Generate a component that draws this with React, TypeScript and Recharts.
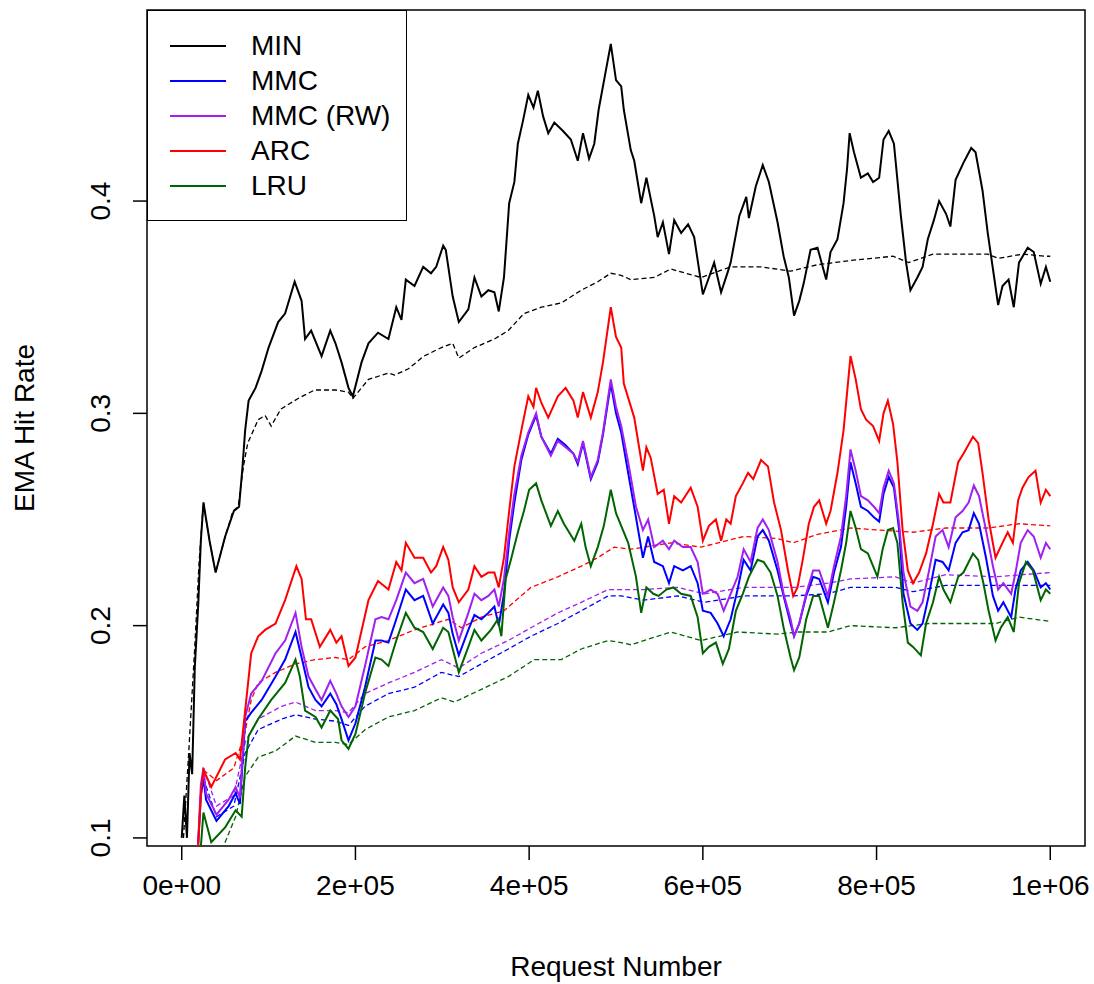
import { LineChart, Line, XAxis, YAxis, ReferenceArea } from "recharts";

// request number in thousands, EMA hit rate
const minEma: [number, number][] = [
  [0, 0.1], [3, 0.12], [6, 0.1], [9, 0.14], [12, 0.13], [15, 0.18], [19, 0.21], [22, 0.24], [25, 0.258],
  [32, 0.24], [39, 0.225], [50, 0.242], [60, 0.254], [66, 0.256], [70, 0.275], [73, 0.292], [77, 0.306],
  [85, 0.312], [92, 0.32], [100, 0.331], [111, 0.343], [119, 0.347], [130, 0.362], [138, 0.353], [142, 0.335],
  [149, 0.339], [161, 0.327], [171, 0.339], [177, 0.333], [184, 0.324], [192, 0.312], [197, 0.308],
  [207, 0.324], [215, 0.333], [226, 0.338], [238, 0.335], [247, 0.35], [253, 0.344], [258, 0.363],
  [268, 0.36], [278, 0.369], [287, 0.366], [293, 0.369], [301, 0.379], [304, 0.377], [312, 0.355],
  [319, 0.343], [330, 0.349], [337, 0.364], [345, 0.355], [353, 0.358], [360, 0.357], [365, 0.348],
  [371, 0.364], [377, 0.399], [383, 0.409], [387, 0.427], [393, 0.438], [399, 0.45], [405, 0.444],
  [410, 0.452], [416, 0.44], [422, 0.432], [429, 0.437], [439, 0.433], [448, 0.429], [456, 0.419],
  [462, 0.432], [469, 0.42], [475, 0.427], [480, 0.443], [489, 0.463], [494, 0.474], [500, 0.457],
  [506, 0.454], [509, 0.443], [517, 0.424], [521, 0.419], [529, 0.399], [535, 0.411], [544, 0.393],
  [548, 0.383], [554, 0.39], [561, 0.375], [567, 0.391], [575, 0.385], [583, 0.389], [590, 0.383],
  [600, 0.356], [607, 0.364], [613, 0.371], [621, 0.357], [629, 0.367], [632, 0.371], [642, 0.393],
  [650, 0.402], [653, 0.392], [661, 0.407], [669, 0.417], [676, 0.409], [686, 0.39], [693, 0.374],
  [699, 0.364], [705, 0.346], [711, 0.353], [716, 0.361], [724, 0.377], [732, 0.378], [736, 0.372],
  [742, 0.363], [747, 0.376], [755, 0.382], [762, 0.399], [766, 0.415], [769, 0.432], [774, 0.423],
  [782, 0.411], [790, 0.413], [796, 0.409], [803, 0.411], [808, 0.429], [814, 0.433], [820, 0.427],
  [828, 0.393], [834, 0.371], [839, 0.358], [847, 0.364], [853, 0.369], [859, 0.382], [866, 0.391],
  [872, 0.4], [880, 0.394], [885, 0.388], [891, 0.41], [900, 0.418], [909, 0.425], [914, 0.423],
  [922, 0.405], [928, 0.385], [934, 0.368], [940, 0.351], [945, 0.36], [952, 0.363], [958, 0.35],
  [964, 0.371], [974, 0.378], [981, 0.376], [989, 0.361], [995, 0.369], [1000, 0.362],
];

const minAvg: [number, number][] = [
  [2, 0.1], [8, 0.14], [15, 0.19], [20, 0.23], [25, 0.258], [32, 0.24], [39, 0.225], [50, 0.242],
  [59, 0.254], [65, 0.256], [71, 0.275], [76, 0.286], [88, 0.297], [96, 0.299], [103, 0.294],
  [114, 0.302], [134, 0.307], [153, 0.311], [177, 0.311], [192, 0.31], [197, 0.307], [215, 0.316],
  [238, 0.319], [245, 0.318], [261, 0.321], [279, 0.327], [299, 0.331], [312, 0.333], [319, 0.326],
  [337, 0.331], [360, 0.335], [376, 0.339], [394, 0.347], [414, 0.35], [437, 0.352], [460, 0.358],
  [479, 0.362], [494, 0.366], [506, 0.365], [517, 0.363], [544, 0.364], [563, 0.368], [598, 0.364],
  [632, 0.369], [667, 0.369], [701, 0.367], [732, 0.37], [770, 0.372], [819, 0.374], [837, 0.371],
  [865, 0.375], [928, 0.375], [940, 0.373], [968, 0.375], [995, 0.374], [1000, 0.374],
];

const mmcEma: [number, number][] = [
  [18, 0.09], [22, 0.12], [25, 0.128], [28, 0.118], [40, 0.108], [54, 0.115], [62, 0.121], [67, 0.116],
  [73, 0.155], [80, 0.159], [92, 0.165], [108, 0.176], [119, 0.184], [131, 0.197], [138, 0.185],
  [146, 0.171], [154, 0.165], [161, 0.162], [171, 0.168], [178, 0.163], [184, 0.156], [192, 0.146],
  [200, 0.154], [211, 0.171], [223, 0.193], [230, 0.193], [238, 0.192], [247, 0.203], [258, 0.217],
  [268, 0.212], [278, 0.214], [289, 0.201], [301, 0.21], [307, 0.206], [312, 0.196], [319, 0.186],
  [330, 0.198], [337, 0.205], [345, 0.203], [353, 0.206], [360, 0.209], [365, 0.2], [371, 0.215],
  [377, 0.24], [383, 0.258], [391, 0.278], [399, 0.29], [408, 0.299], [414, 0.289], [425, 0.281],
  [433, 0.288], [442, 0.285], [451, 0.281], [456, 0.276], [462, 0.286], [471, 0.269], [479, 0.277],
  [485, 0.29], [494, 0.314], [500, 0.3], [506, 0.291], [514, 0.272], [523, 0.251], [531, 0.232],
  [537, 0.242], [544, 0.23], [554, 0.228], [561, 0.22], [567, 0.228], [577, 0.226], [586, 0.228],
  [594, 0.22], [600, 0.207], [609, 0.206], [617, 0.201], [624, 0.195], [632, 0.203], [640, 0.217],
  [647, 0.231], [655, 0.226], [663, 0.242], [669, 0.245], [676, 0.24], [686, 0.226], [693, 0.214],
  [701, 0.201], [705, 0.195], [711, 0.201], [719, 0.214], [727, 0.223], [734, 0.222], [744, 0.211],
  [751, 0.225], [759, 0.237], [765, 0.256], [770, 0.277], [776, 0.267], [782, 0.256], [790, 0.254],
  [797, 0.251], [803, 0.249], [808, 0.262], [814, 0.27], [820, 0.265], [826, 0.245], [831, 0.215],
  [839, 0.201], [847, 0.198], [853, 0.201], [860, 0.214], [868, 0.231], [876, 0.23], [883, 0.226],
  [891, 0.239], [899, 0.244], [906, 0.245], [912, 0.253], [918, 0.248], [926, 0.232], [934, 0.214],
  [940, 0.207], [946, 0.211], [955, 0.204], [960, 0.217], [966, 0.226], [974, 0.23], [981, 0.226],
  [989, 0.218], [995, 0.22], [1000, 0.217],
];

const mmcAvg: [number, number][] = [
  [25, 0.128], [40, 0.11], [60, 0.115], [73, 0.14], [88, 0.151], [115, 0.156], [131, 0.158],
  [154, 0.156], [177, 0.155], [192, 0.153], [211, 0.162], [238, 0.168], [268, 0.171], [299, 0.178],
  [319, 0.176], [345, 0.182], [376, 0.189], [402, 0.195], [433, 0.201], [460, 0.207], [491, 0.214],
  [506, 0.214], [532, 0.212], [571, 0.214], [602, 0.211], [647, 0.214], [705, 0.214], [744, 0.215],
  [770, 0.218], [822, 0.218], [842, 0.216], [880, 0.219], [960, 0.219], [1000, 0.219],
];

const mmcRwEma: [number, number][] = [
  [18, 0.09], [22, 0.125], [25, 0.133], [28, 0.121], [40, 0.111], [54, 0.118], [62, 0.124], [67, 0.119],
  [73, 0.157], [80, 0.168], [92, 0.174], [108, 0.187], [119, 0.193], [131, 0.206], [138, 0.19],
  [146, 0.176], [154, 0.17], [161, 0.165], [171, 0.174], [178, 0.168], [184, 0.162], [192, 0.157],
  [200, 0.162], [211, 0.181], [223, 0.203], [230, 0.204], [238, 0.203], [247, 0.212], [258, 0.225],
  [268, 0.22], [278, 0.222], [289, 0.209], [301, 0.218], [307, 0.214], [312, 0.204], [319, 0.193],
  [330, 0.206], [337, 0.215], [345, 0.212], [353, 0.214], [360, 0.217], [365, 0.209], [371, 0.222],
  [377, 0.244], [383, 0.262], [391, 0.28], [399, 0.291], [408, 0.3], [414, 0.289], [425, 0.28],
  [433, 0.287], [442, 0.284], [451, 0.281], [456, 0.277], [462, 0.287], [471, 0.27], [479, 0.278],
  [485, 0.291], [494, 0.316], [500, 0.303], [506, 0.294], [514, 0.277], [523, 0.256], [531, 0.245],
  [537, 0.25], [544, 0.237], [554, 0.24], [561, 0.236], [567, 0.24], [577, 0.237], [586, 0.237],
  [594, 0.23], [600, 0.215], [609, 0.217], [617, 0.215], [624, 0.207], [632, 0.215], [640, 0.223],
  [647, 0.236], [655, 0.23], [663, 0.246], [669, 0.25], [676, 0.245], [686, 0.23], [693, 0.215],
  [701, 0.203], [705, 0.195], [711, 0.201], [719, 0.215], [727, 0.226], [734, 0.226], [744, 0.214],
  [751, 0.228], [759, 0.242], [765, 0.261], [770, 0.283], [776, 0.273], [782, 0.261], [790, 0.259],
  [797, 0.256], [803, 0.253], [808, 0.265], [814, 0.273], [820, 0.267], [826, 0.248], [831, 0.225],
  [839, 0.209], [847, 0.207], [853, 0.211], [860, 0.225], [868, 0.242], [876, 0.245], [883, 0.237],
  [891, 0.251], [899, 0.254], [906, 0.258], [912, 0.266], [918, 0.261], [926, 0.245], [934, 0.228],
  [940, 0.217], [946, 0.22], [955, 0.215], [960, 0.225], [966, 0.239], [974, 0.245], [981, 0.242],
  [989, 0.232], [995, 0.239], [1000, 0.236],
];

const mmcRwAvg: [number, number][] = [
  [25, 0.133], [40, 0.115], [60, 0.12], [73, 0.145], [88, 0.156], [115, 0.162], [131, 0.164],
  [154, 0.16], [177, 0.16], [192, 0.159], [211, 0.168], [238, 0.173], [268, 0.178], [299, 0.184],
  [319, 0.18], [345, 0.187], [376, 0.193], [402, 0.199], [433, 0.206], [460, 0.211], [491, 0.217],
  [506, 0.217], [532, 0.217], [571, 0.218], [602, 0.215], [647, 0.218], [705, 0.218], [744, 0.22],
  [770, 0.222], [822, 0.223], [842, 0.22], [880, 0.224], [937, 0.223], [1000, 0.225],
];

const arcEma: [number, number][] = [
  [18, 0.09], [22, 0.12], [25, 0.132], [34, 0.124], [50, 0.137], [62, 0.14], [67, 0.137], [73, 0.16],
  [80, 0.187], [88, 0.195], [96, 0.198], [108, 0.201], [119, 0.212], [132, 0.228], [138, 0.222],
  [143, 0.203], [149, 0.203], [159, 0.19], [171, 0.198], [178, 0.192], [184, 0.195], [192, 0.181],
  [200, 0.185], [215, 0.212], [226, 0.221], [238, 0.217], [247, 0.23], [253, 0.226], [258, 0.239],
  [268, 0.232], [278, 0.232], [287, 0.225], [293, 0.228], [301, 0.237], [307, 0.231], [312, 0.218],
  [319, 0.211], [330, 0.217], [337, 0.228], [345, 0.223], [353, 0.225], [360, 0.225], [365, 0.218],
  [371, 0.232], [377, 0.254], [383, 0.275], [391, 0.292], [399, 0.308], [405, 0.303], [408, 0.312],
  [414, 0.305], [422, 0.298], [433, 0.308], [442, 0.312], [451, 0.306], [456, 0.298], [462, 0.31],
  [471, 0.298], [479, 0.31], [485, 0.324], [494, 0.35], [500, 0.336], [506, 0.331], [509, 0.314],
  [521, 0.298], [531, 0.273], [535, 0.284], [540, 0.279], [548, 0.262], [555, 0.264], [561, 0.248],
  [567, 0.261], [575, 0.258], [586, 0.265], [594, 0.256], [600, 0.24], [607, 0.247], [615, 0.25],
  [621, 0.24], [627, 0.25], [632, 0.248], [638, 0.261], [646, 0.267], [652, 0.272], [658, 0.269],
  [667, 0.278], [675, 0.275], [682, 0.258], [690, 0.245], [698, 0.226], [704, 0.214], [709, 0.218],
  [715, 0.231], [722, 0.248], [728, 0.256], [734, 0.259], [742, 0.248], [747, 0.254], [755, 0.272],
  [762, 0.292], [770, 0.327], [776, 0.316], [782, 0.302], [788, 0.297], [796, 0.294], [803, 0.287],
  [808, 0.3], [813, 0.306], [819, 0.295], [824, 0.277], [830, 0.245], [836, 0.226], [842, 0.22],
  [849, 0.225], [857, 0.234], [865, 0.248], [872, 0.262], [877, 0.258], [885, 0.258], [894, 0.277],
  [900, 0.281], [911, 0.289], [917, 0.286], [922, 0.272], [929, 0.25], [937, 0.232], [945, 0.239],
  [951, 0.244], [957, 0.239], [963, 0.259], [968, 0.265], [975, 0.27], [983, 0.273], [989, 0.258],
  [995, 0.264], [1000, 0.261],
];

const arcAvg: [number, number][] = [
  [25, 0.132], [40, 0.127], [60, 0.133], [73, 0.15], [80, 0.165], [88, 0.173], [108, 0.178],
  [131, 0.182], [154, 0.184], [177, 0.185], [192, 0.184], [211, 0.19], [238, 0.193], [268, 0.198],
  [307, 0.203], [322, 0.199], [345, 0.204], [371, 0.207], [402, 0.218], [433, 0.223], [460, 0.228],
  [479, 0.232], [498, 0.237], [517, 0.236], [563, 0.239], [598, 0.237], [647, 0.242], [686, 0.241],
  [704, 0.239], [732, 0.243], [770, 0.246], [803, 0.245], [842, 0.244], [880, 0.246], [929, 0.246],
  [964, 0.248], [1000, 0.247],
];

const lruEma: [number, number][] = [
  [20, 0.085], [25, 0.112], [34, 0.098], [50, 0.105], [62, 0.113], [69, 0.11], [73, 0.133], [77, 0.148],
  [88, 0.156], [103, 0.165], [119, 0.173], [131, 0.184], [136, 0.176], [142, 0.16], [154, 0.157],
  [161, 0.152], [171, 0.16], [180, 0.156], [184, 0.146], [192, 0.142], [200, 0.149], [211, 0.168],
  [223, 0.185], [230, 0.184], [238, 0.181], [247, 0.193], [258, 0.206], [268, 0.199], [278, 0.197],
  [289, 0.189], [301, 0.199], [307, 0.197], [312, 0.189], [319, 0.178], [330, 0.19], [337, 0.198],
  [345, 0.193], [356, 0.198], [364, 0.203], [368, 0.195], [373, 0.222], [379, 0.231], [387, 0.244],
  [394, 0.254], [400, 0.264], [408, 0.267], [414, 0.259], [425, 0.247], [433, 0.254], [440, 0.248],
  [452, 0.24], [460, 0.248], [465, 0.237], [471, 0.228], [479, 0.237], [486, 0.247], [494, 0.264],
  [500, 0.253], [506, 0.247], [514, 0.239], [523, 0.223], [529, 0.206], [535, 0.218], [543, 0.215],
  [549, 0.214], [558, 0.217], [566, 0.218], [575, 0.215], [586, 0.214], [594, 0.204], [600, 0.187],
  [607, 0.19], [615, 0.192], [623, 0.182], [630, 0.189], [638, 0.207], [646, 0.215], [653, 0.223],
  [663, 0.231], [670, 0.23], [678, 0.225], [686, 0.214], [693, 0.199], [701, 0.185], [705, 0.179],
  [711, 0.185], [719, 0.203], [727, 0.214], [734, 0.214], [744, 0.199], [751, 0.211], [759, 0.226],
  [765, 0.239], [770, 0.254], [776, 0.246], [782, 0.236], [790, 0.234], [796, 0.228], [801, 0.223],
  [807, 0.236], [813, 0.245], [819, 0.246], [824, 0.239], [830, 0.211], [836, 0.192], [842, 0.19],
  [851, 0.186], [857, 0.201], [865, 0.211], [872, 0.223], [877, 0.217], [885, 0.211], [894, 0.223],
  [900, 0.225], [911, 0.234], [917, 0.231], [923, 0.22], [929, 0.207], [937, 0.193], [943, 0.199],
  [951, 0.204], [958, 0.197], [964, 0.22], [972, 0.23], [980, 0.226], [989, 0.212], [995, 0.217],
  [1000, 0.215],
];

const lruAvg: [number, number][] = [
  [30, 0.085], [50, 0.098], [62, 0.11], [73, 0.129], [88, 0.138], [108, 0.141], [131, 0.148],
  [154, 0.145], [177, 0.145], [192, 0.144], [211, 0.151], [238, 0.157], [268, 0.16], [299, 0.166],
  [314, 0.164], [345, 0.17], [376, 0.176], [406, 0.184], [437, 0.184], [460, 0.189], [491, 0.193],
  [506, 0.192], [517, 0.191], [563, 0.197], [598, 0.193], [640, 0.197], [686, 0.196], [709, 0.197],
  [744, 0.197], [770, 0.2], [822, 0.199], [860, 0.201], [937, 0.201], [964, 0.204], [1000, 0.202],
];

const xTicks = [0, 200000, 400000, 600000, 800000, 1000000];
const xTickLabels = ["0e+00", "2e+05", "4e+05", "6e+05", "8e+05", "1e+06"];
const yTicks = [0.1, 0.2, 0.3, 0.4];

const series = [
  { name: "MIN", color: "#000000", ema: minEma, avg: minAvg },
  { name: "MMC", color: "#0000ff", ema: mmcEma, avg: mmcAvg },
  { name: "MMC (RW)", color: "#a020f0", ema: mmcRwEma, avg: mmcRwAvg },
  { name: "ARC", color: "#ff0000", ema: arcEma, avg: arcAvg },
  { name: "LRU", color: "#006400", ema: lruEma, avg: lruAvg },
];

const X_MIN = -40000;
const X_MAX = 1040000;
const Y_MIN = 0.0962;
const Y_MAX = 0.49;
const FONT = "'Liberation Sans', Arial, sans-serif";

const toPoints = (pairs: [number, number][]) =>
  pairs.map(([k, v]) => ({ x: k * 1000, y: v }));

function XTick({ x, payload }: any) {
  const i = xTicks.indexOf(payload.value);
  return (
    <text x={x} y={885} textAnchor="middle" dominantBaseline="central" fontSize={28} fill="#000">
      {xTickLabels[i]}
    </text>
  );
}

function YTick({ y, payload }: any) {
  return (
    <text
      x={101}
      y={y}
      textAnchor="middle"
      dominantBaseline="central"
      fontSize={28}
      fill="#000"
      transform={`rotate(-90, 101, ${y})`}
    >
      {payload.value.toFixed(1)}
    </text>
  );
}

function LegendBox() {
  return (
    <div
      style={{
        position: "absolute",
        left: 147,
        top: 10,
        width: 260,
        height: 211,
        border: "1.5px solid #000",
        background: "#fff",
        boxSizing: "border-box",
        paddingTop: 18,
      }}
    >
      {series.map((s) => (
        <div key={s.name} style={{ display: "flex", alignItems: "center", height: 34.8 }}>
          <svg width={56} height={6} style={{ marginLeft: 22 }}>
            <line x1={0} x2={56} y1={3} y2={3} stroke={s.color} strokeWidth={2} />
          </svg>
          <span style={{ marginLeft: 25, fontSize: 28, lineHeight: "30px", color: "#000" }}>{s.name}</span>
        </div>
      ))}
    </div>
  );
}

export default function App() {
  return (
    <div style={{ position: "absolute", left: 0, top: 0, width: 1094, height: 984, background: "#fff", fontFamily: FONT }}>
      <LineChart width={1094} height={984} margin={{ top: 10, right: 9, bottom: 0, left: 0 }}>
        <XAxis
          dataKey="x"
          type="number"
          domain={[X_MIN, X_MAX]}
          ticks={xTicks}
          allowDataOverflow
          height={138}
          axisLine={false}
          tickSize={14}
          tickLine={{ stroke: "#000", strokeWidth: 1.5 }}
          tick={<XTick />}
        />
        <YAxis
          type="number"
          domain={[Y_MIN, Y_MAX]}
          ticks={yTicks}
          allowDataOverflow
          width={147}
          axisLine={false}
          tickSize={14}
          tickLine={{ stroke: "#000", strokeWidth: 1.5 }}
          tick={<YTick />}
        />
        {series.map((s) => (
          <Line
            key={s.name + "-avg"}
            data={toPoints(s.avg)}
            dataKey="y"
            stroke={s.color}
            strokeWidth={1.3}
            strokeDasharray="5 3"
            dot={false}
            isAnimationActive={false}
            legendType="none"
          />
        ))}
        {series.map((s) => (
          <Line
            key={s.name}
            data={toPoints(s.ema)}
            dataKey="y"
            name={s.name}
            stroke={s.color}
            strokeWidth={2}
            dot={false}
            isAnimationActive={false}
          />
        ))}
        <ReferenceArea
          x1={X_MIN}
          x2={X_MAX}
          y1={Y_MIN}
          y2={Y_MAX}
          fill="none"
          stroke="#000"
          strokeWidth={1.5}
          ifOverflow="visible"
        />
      </LineChart>
      <svg width={1094} height={984} style={{ position: "absolute", left: 0, top: 0, pointerEvents: "none" }}>
        <text x={616} y={966} textAnchor="middle" dominantBaseline="central" fontSize={28} fill="#000">
          Request Number
        </text>
        <text
          x={24}
          y={428}
          textAnchor="middle"
          dominantBaseline="central"
          fontSize={28}
          fill="#000"
          transform="rotate(-90, 24, 428)"
        >
          EMA Hit Rate
        </text>
      </svg>
      <LegendBox />
    </div>
  );
}
